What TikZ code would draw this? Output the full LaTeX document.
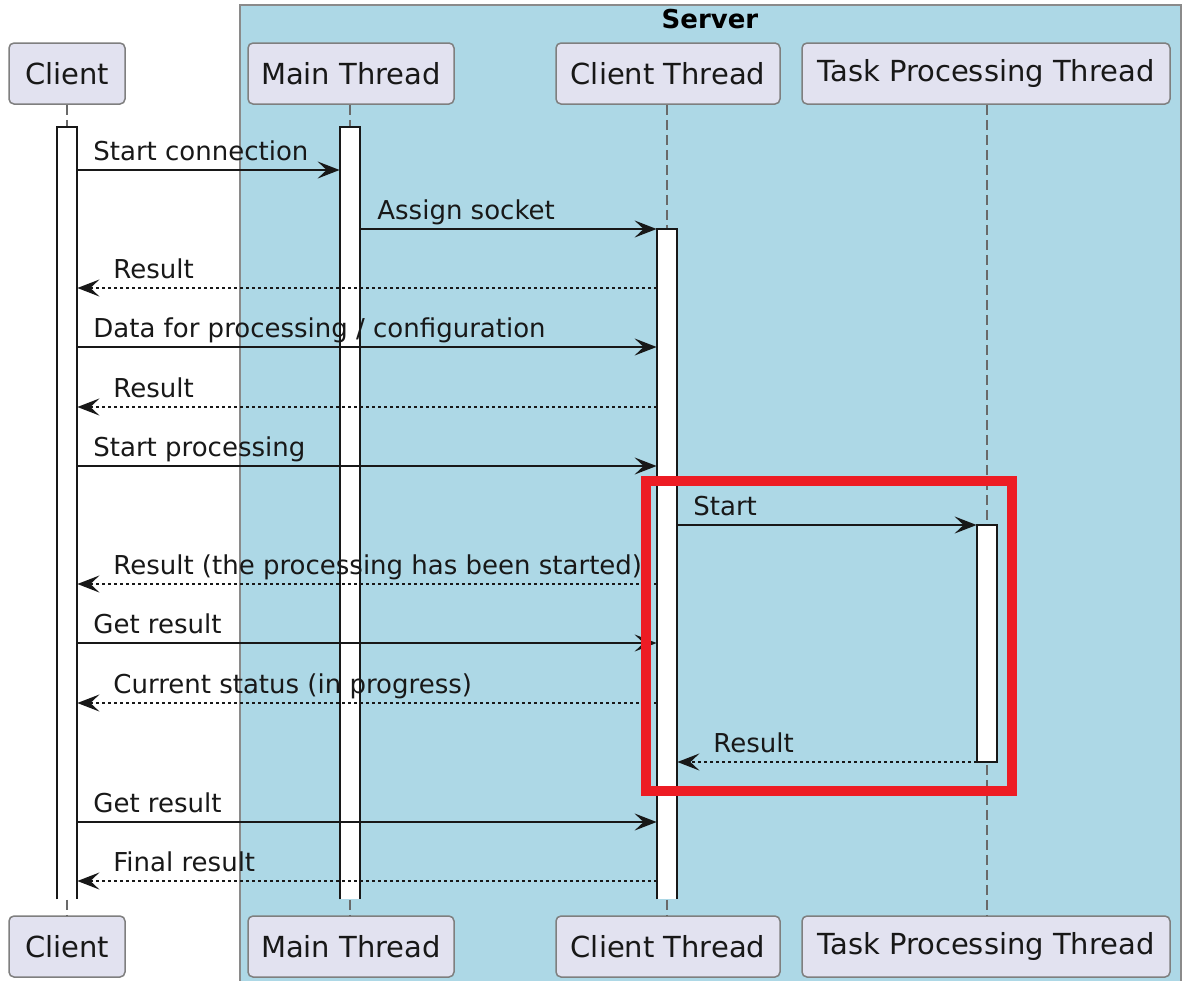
\documentclass[tikz,border=0pt]{standalone}
\usepackage{fontspec}
\setmainfont{DejaVu Sans}
\usetikzlibrary{arrows.meta}
\definecolor{srvfill}{HTML}{ADD8E6}
\definecolor{srvdraw}{HTML}{8A8A8A}
\definecolor{partfill}{HTML}{E2E2F0}
\definecolor{partdraw}{HTML}{7F7F7F}
\definecolor{ink}{HTML}{181818}
\definecolor{redbox}{HTML}{ED1C24}
\tikzset{
 part/.style={draw=partdraw, fill=partfill, rounded corners=2.5pt, line width=0.75pt, inner sep=0pt, minimum height=30.5pt, font=\fontsize{14.5}{16}\selectfont, text=ink},
 life/.style={draw=ink!65, line width=0.6pt, dash pattern=on 5pt off 2.5pt},
 actbar/.style={fill=white, inner sep=0pt, minimum width=10pt},
 actedge/.style={draw=ink, line width=1pt},
 msg/.style={draw=ink, line width=0.9pt, -{Stealth[length=11pt,width=8.5pt,inset=4.5pt]}},
 reply/.style={msg, dash pattern=on 1.5pt off 1.5pt},
 lbl/.style={anchor=base west, inner sep=0pt, font=\fontsize{13}{15}\selectfont, text=ink},
}
\begin{document}
\begin{tikzpicture}[x=0.5pt, y=-0.5pt]
\useasboundingbox (0,0) rectangle (1188,980);
\fill[white] (0,0) rectangle (1188,980);
% server group
\draw[draw=srvdraw, fill=srvfill, line width=0.75pt] (240,5) rectangle (1181,990);
\node[anchor=base, inner sep=0pt, font=\fontsize{13}{15}\selectfont\bfseries, text=black] (srv) at (710,28) {Server};
% participants top
\node[part, minimum width=58pt] (cT) at (67,73.5) {Client};
\node[part, minimum width=103pt] (mT) at (351,73.5) {Main Thread};
\node[part, minimum width=112pt] (ctT) at (668,73.5) {Client Thread};
\node[part, minimum width=184pt] (tT) at (986,73.5) {Task Processing Thread};
% participants bottom
\node[part, minimum width=58pt] (cB) at (67,946.5) {Client};
\node[part, minimum width=103pt] (mB) at (351,946.5) {Main Thread};
\node[part, minimum width=112pt] (ctB) at (668,946.5) {Client Thread};
\node[part, minimum width=184pt] (tB) at (986,946.5) {Task Processing Thread};
% lifelines
\draw[life] (cT.south -| 67,0) -- (cB.north -| 67,0);
\draw[life] (mT.south -| 350,0) -- (mB.north -| 350,0);
\draw[life] (ctT.south -| 667,0) -- (ctB.north -| 667,0);
\draw[life] (tT.south -| 987,0) -- (tB.north -| 987,0);
% activation bars
\node[actbar, minimum height=386pt] (actC) at (67,513) {};
\node[actbar, minimum height=386pt] (actM) at (350,513) {};
\node[actbar, minimum height=335pt] (actCT) at (667,564) {};
\node[actbar, minimum height=118.5pt] (actT) at (987,643.5) {};
\draw[actedge] (actC.south west) -- (actC.north west) -- (actC.north east) -- (actC.south east);
\draw[actedge] (actM.south west) -- (actM.north west) -- (actM.north east) -- (actM.south east);
\draw[actedge] (actCT.south west) -- (actCT.north west) -- (actCT.north east) -- (actCT.south east);
\draw[actedge] (actT.south west) rectangle (actT.north east);
% messages
\draw[msg] (actC.east |- 0,170) -- (actM.west |- 0,170);
\node[lbl] (l1) at (93,160) {Start connection};
\draw[msg] (actM.east |- 0,229) -- (actCT.west |- 0,229);
\node[lbl] (l2) at (377,219) {Assign socket};
\draw[reply] (actCT.west |- 0,288) -- (actC.east |- 0,288);
\node[lbl] (l3) at (113,278) {Result};
\draw[msg] (actC.east |- 0,347) -- (actCT.west |- 0,347);
\node[lbl] (l4) at (93,337) {Data for processing / configuration};
\draw[reply] (actCT.west |- 0,407) -- (actC.east |- 0,407);
\node[lbl] (l5) at (113,397) {Result};
\draw[msg] (actC.east |- 0,466) -- (actCT.west |- 0,466);
\node[lbl] (l6) at (93,456) {Start processing};
\draw[msg] (actCT.east |- 0,525) -- (actT.west |- 0,525);
\node[lbl] (l7) at (693,515) {Start};
\draw[reply] (actCT.west |- 0,584) -- (actC.east |- 0,584);
\node[lbl] (l8) at (113,574) {Result (the processing has been started)};
\draw[msg] (actC.east |- 0,643) -- (actCT.west |- 0,643);
\node[lbl] (l9) at (93,633) {Get result};
\draw[reply] (actCT.west |- 0,703) -- (actC.east |- 0,703);
\node[lbl] (l10) at (113,693) {Current status (in progress)};
\draw[reply] (actT.west |- 0,762) -- (actCT.east |- 0,762);
\node[lbl] (l11) at (713,752) {Result};
\draw[msg] (actC.east |- 0,822) -- (actCT.west |- 0,822);
\node[lbl] (l12) at (93,812) {Get result};
\draw[reply] (actCT.west |- 0,881) -- (actC.east |- 0,881);
\node[lbl] (l13) at (113,871) {Final result};
% highlight box
\draw[draw=redbox, line width=5pt] (646,481) rectangle (1012,791);
\end{tikzpicture}
\end{document}
